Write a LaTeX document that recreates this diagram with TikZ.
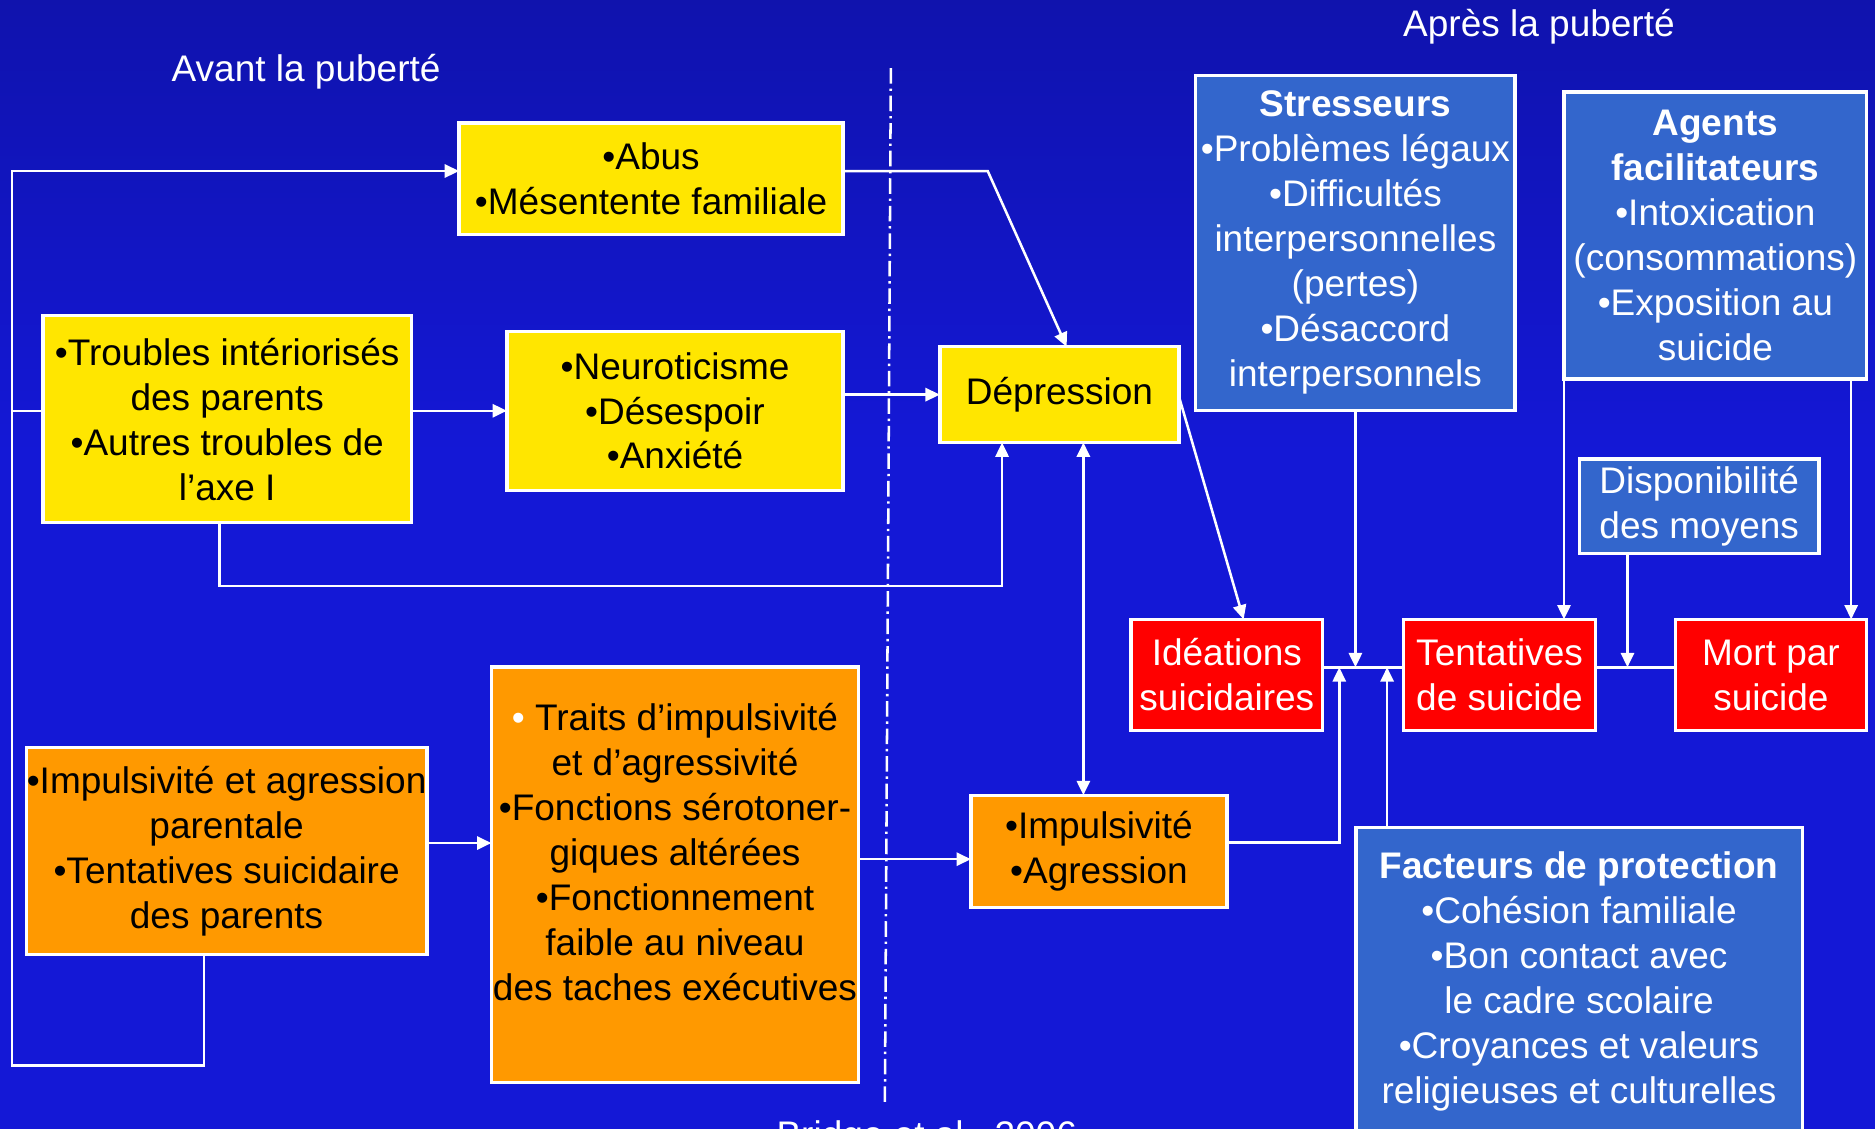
\documentclass[tikz,border=0pt]{standalone}
\usepackage{fontspec}
\setmainfont{Liberation Sans}
\usetikzlibrary{arrows.meta,positioning,calc}

\definecolor{fondhaut}{HTML}{0A0C7A}
\definecolor{fondmilieu}{HTML}{1418D6}
\definecolor{fondbas}{HTML}{0A0A64}
\definecolor{jaune}{HTML}{FFE600}
\definecolor{orangeboite}{HTML}{FF9900}
\definecolor{rouge}{HTML}{FF0000}
\definecolor{bleuboite}{HTML}{3366CC}

\pgfdeclareverticalshading{fond}{100bp}{color(0bp)=(fondbas); color(22bp)=(fondmilieu);
  color(55bp)=(fondmilieu); color(100bp)=(fondhaut)}

\tikzset{
  boite/.style={draw=white, line width=0.8pt, inner sep=0pt, outer sep=0pt,
    align=center, font=\fontsize{8.8}{10.7}\selectfont},
  boiteJaune/.style={boite, fill=jaune, text=black},
  boiteOrange/.style={boite, fill=orangeboite, text=black},
  boiteRouge/.style={boite, fill=rouge, text=white},
  boiteBleue/.style={boite, fill=bleuboite, text=white},
  titre/.style={text=white, font=\fontsize{8.8}{10.7}\selectfont},
  lien/.style={draw=white, line width=0.6pt},
  fleche/.style={lien, -{Triangle[length=1.2mm,width=1.1mm]}},
  doublefleche/.style={lien, {Triangle[length=1.2mm,width=1.1mm]}-{Triangle[length=1.2mm,width=1.1mm]}}
}

\begin{document}
\begin{tikzpicture}[x=0.01cm, y=-0.01cm]

% Fond
\useasboundingbox (0,0) rectangle (1568,944);
\shade[shading=fond] (0,0) rectangle (1568,944);

% Titres
\node[titre] (avant) at (256,60) {Avant la puberté};
\node[titre] (apres) at (1287,22) {Après la puberté};
\node[titre, anchor=base] (source) at (775,960) {Bridge et al., 2006};

% Separation
\draw[white, line width=0.6pt, dash pattern=on 1.3mm off 0.4mm on 0.2mm off 0.4mm] (745,57) -- (740,923);

% Avant la puberte
\node[boiteJaune, minimum width=3.21cm, minimum height=0.93cm] (abus) at (544.5,149.5)
  {•Abus\\•Mésentente familiale};
\node[boiteJaune, minimum width=3.08cm, minimum height=1.73cm] (troubles) at (190,350.5)
  {•Troubles intériorisés\\des parents\\•Autres troubles de\\l’axe I};
\node[boiteJaune, minimum width=2.81cm, minimum height=1.33cm] (neuro) at (564.5,343.5)
  {•Neuroticisme\\•Désespoir\\•Anxiété};
\node[boiteJaune, minimum width=2.00cm, minimum height=0.80cm] (depression) at (886,330)
  {Dépression};
\node[boiteOrange, minimum width=3.35cm, minimum height=1.73cm] (parents) at (189.5,711.5)
  {•Impulsivité et agression\\parentale\\•Tentatives suicidaire\\des parents};
\node[boiteOrange, minimum width=3.07cm, minimum height=3.47cm] (traits) at (564.5,731.5)
  {{\color{white}•} Traits d’impulsivité\\et d’agressivité\\•Fonctions sérotoner-\\giques altérées\\•Fonctionnement\\faible au niveau\\des taches exécutives\\\mbox{}};
\node[boiteOrange, minimum width=2.14cm, minimum height=0.94cm] (impagr) at (919,712)
  {•Impulsivité\\•Agression};

% Apres la puberte
\node[boiteBleue, minimum width=2.67cm, minimum height=2.80cm] (stress) at (1133.5,203)
  {\textbf{Stresseurs}\\•Problèmes légaux\\•Difficultés\\interpersonnelles\\(pertes)\\•Désaccord\\interpersonnels};
\node[boiteBleue, minimum width=2.53cm, minimum height=2.40cm] (agents) at (1434.5,197)
  {\textbf{Agents}\\\textbf{facilitateurs}\\•Intoxication\\(consommations)\\•Exposition au\\suicide};
\node[boiteBleue, minimum width=2.00cm, minimum height=0.79cm] (dispo) at (1421,423.5)
  {Disponibilité\\des moyens};
\node[boiteRouge, minimum width=1.60cm, minimum height=0.93cm] (ideations) at (1026,564.5)
  {Idéations\\suicidaires};
\node[boiteRouge, minimum width=1.60cm, minimum height=0.93cm] (tentatives) at (1254,564.5)
  {Tentatives\\de suicide};
\node[boiteRouge, minimum width=1.60cm, minimum height=0.93cm] (mort) at (1481,564.5)
  {Mort par\\suicide};
\node[boiteBleue, minimum width=3.73cm, minimum height=2.58cm] (facteurs) at (1320.5,821)
  {\textbf{Facteurs de protection}\\•Cohésion familiale\\•Bon contact avec\\le cadre scolaire\\•Croyances et valeurs\\religieuses et culturelles};

% Points de passage
\coordinate (hg) at (10,143);
\coordinate (bg) at (10,891);
\coordinate (bas) at (838,490);
\coordinate (coude) at (826,143);
\coordinate (bus) at (0,558);
\coordinate (montee) at (1120,0);
\coordinate (fp) at (1160,0);
\coordinate (ia) at ($(impagr.west)+(0,6.5)$);
\coordinate (ib) at ($(impagr.east)+(0,-7.5)$);
\coordinate (pa) at ($(parents.east)+(0,-6.5)$);
\coordinate (ad) at ($(agents.south east)+(-13,0)$);
\coordinate (dm) at ($(dispo.south)+(-60,0)$);
\coordinate (dv) at ($(depression.south)+(20,0)$);

% Liens avant la puberte
\draw[fleche] ($(parents.south)+(-19,0)$) |- (bg) -- (hg) -- (hg -| abus.west);
\draw[lien] (hg |- neuro.west) -- (troubles.west |- neuro.west);
\draw[fleche] (troubles.east |- neuro.west) -- (neuro.west);
\draw[fleche] ($(troubles.south)+(-6.5,0)$) |- (bas) -- (bas |- depression.south);
\draw[fleche] (neuro.east |- depression.west) -- (depression.west);
\draw[fleche] (abus.east |- coude) -- (coude) -- ($(depression.north)+(6,0)$);
\draw[fleche] (pa) -- (pa -| traits.west);
\draw[fleche] (traits.east |- ia) -- (ia);
\draw[doublefleche] (dv) -- (dv |- impagr.north);

% Liens apres la puberte
\draw[fleche] ($(depression.east)+(0,2)$) -- ($(ideations.north)+(14,0)$);
\draw[lien] (ideations.east |- bus) -- (tentatives.west |- bus);
\draw[lien] (tentatives.east |- bus) -- (mort.west |- bus);
\draw[fleche] (stress.south) -- (stress.south |- bus);
\draw[fleche] (ib) -| (montee |- bus);
\draw[fleche] (fp |- facteurs.north) -- (fp |- bus);
\draw[fleche] (agents.south west) -- (agents.south west |- tentatives.north);
\draw[fleche] (ad) -- (ad |- mort.north);
\draw[fleche] (dm) -- (dm |- bus);

\end{tikzpicture}
\end{document}
